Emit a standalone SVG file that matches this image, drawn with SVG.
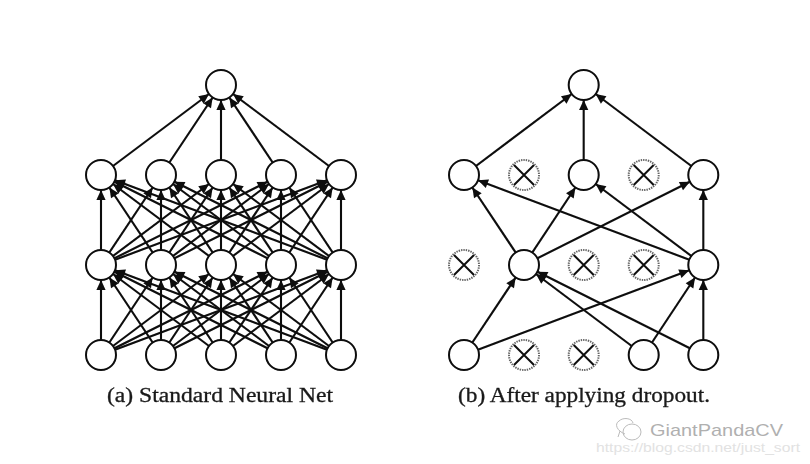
<svg xmlns="http://www.w3.org/2000/svg" width="810" height="464" viewBox="0 0 810 464">
<style>
.e{stroke:#0a0a0a;stroke-width:2.1;fill:none;marker-end:url(#a)}
.n{fill:#fff;stroke:#0a0a0a;stroke-width:2}
.d{fill:#fff;stroke:#666;stroke-width:2;stroke-dasharray:1.4 1}
.x{stroke:#111;stroke-width:2;fill:none}
.c{font-family:"Liberation Serif","Times New Roman",serif;font-size:20px;fill:#1a1a1a;stroke:#1a1a1a;stroke-width:.3}
.w{font-family:"Liberation Sans",Arial,sans-serif}
</style>
<defs>
<marker id="a" markerUnits="userSpaceOnUse" markerWidth="10" markerHeight="10" refX="0" refY="0" orient="auto" overflow="visible">
<path d="M-25,-4.6 L-15,0 L-25,4.6 Z" fill="#0a0a0a"/>
</marker>
<filter id="b" x="-5%" y="-5%" width="110%" height="110%"><feGaussianBlur stdDeviation="0.35"/></filter>
</defs>
<rect width="810" height="464" fill="#fff"/>
<g filter="url(#b)">
<g id="connectors-a">
<path class="e" d="M101,175L221,85"/><path class="e" d="M161,175L221,85"/><path class="e" d="M221,175L221,85"/><path class="e" d="M281,175L221,85"/><path class="e" d="M341,175L221,85"/>
<path class="e" d="M101,265L101,175"/><path class="e" d="M101,265L161,175"/><path class="e" d="M101,265L221,175"/><path class="e" d="M101,265L281,175"/><path class="e" d="M101,265L341,175"/>
<path class="e" d="M161,265L101,175"/><path class="e" d="M161,265L161,175"/><path class="e" d="M161,265L221,175"/><path class="e" d="M161,265L281,175"/><path class="e" d="M161,265L341,175"/>
<path class="e" d="M221,265L101,175"/><path class="e" d="M221,265L161,175"/><path class="e" d="M221,265L221,175"/><path class="e" d="M221,265L281,175"/><path class="e" d="M221,265L341,175"/>
<path class="e" d="M281,265L101,175"/><path class="e" d="M281,265L161,175"/><path class="e" d="M281,265L221,175"/><path class="e" d="M281,265L281,175"/><path class="e" d="M281,265L341,175"/>
<path class="e" d="M341,265L101,175"/><path class="e" d="M341,265L161,175"/><path class="e" d="M341,265L221,175"/><path class="e" d="M341,265L281,175"/><path class="e" d="M341,265L341,175"/>
<path class="e" d="M101,355L101,265"/><path class="e" d="M101,355L161,265"/><path class="e" d="M101,355L221,265"/><path class="e" d="M101,355L281,265"/><path class="e" d="M101,355L341,265"/>
<path class="e" d="M161,355L101,265"/><path class="e" d="M161,355L161,265"/><path class="e" d="M161,355L221,265"/><path class="e" d="M161,355L281,265"/><path class="e" d="M161,355L341,265"/>
<path class="e" d="M221,355L101,265"/><path class="e" d="M221,355L161,265"/><path class="e" d="M221,355L221,265"/><path class="e" d="M221,355L281,265"/><path class="e" d="M221,355L341,265"/>
<path class="e" d="M281,355L101,265"/><path class="e" d="M281,355L161,265"/><path class="e" d="M281,355L221,265"/><path class="e" d="M281,355L281,265"/><path class="e" d="M281,355L341,265"/>
<path class="e" d="M341,355L101,265"/><path class="e" d="M341,355L161,265"/><path class="e" d="M341,355L221,265"/><path class="e" d="M341,355L281,265"/><path class="e" d="M341,355L341,265"/>
</g>
<g id="connectors-b">
<path class="e" d="M464,175L583.7,85"/><path class="e" d="M583.7,175L583.7,85"/><path class="e" d="M703.3,175L583.7,85"/>
<path class="e" d="M524,265L464,175"/><path class="e" d="M524,265L583.7,175"/><path class="e" d="M524,265L703.3,175"/>
<path class="e" d="M703.3,265L464,175"/><path class="e" d="M703.3,265L583.7,175"/><path class="e" d="M703.3,265L703.3,175"/>
<path class="e" d="M464,355L524,265"/><path class="e" d="M464,355L703.3,265"/>
<path class="e" d="M643.7,355L524,265"/><path class="e" d="M643.7,355L703.3,265"/>
<path class="e" d="M703.3,355L524,265"/><path class="e" d="M703.3,355L703.3,265"/>
</g>
<g id="a-top"><circle class="n" cx="221" cy="85" r="15"/></g>
<g id="a-h2-1"><circle class="n" cx="101" cy="175" r="15"/></g>
<g id="a-h2-2"><circle class="n" cx="161" cy="175" r="15"/></g>
<g id="a-h2-3"><circle class="n" cx="221" cy="175" r="15"/></g>
<g id="a-h2-4"><circle class="n" cx="281" cy="175" r="15"/></g>
<g id="a-h2-5"><circle class="n" cx="341" cy="175" r="15"/></g>
<g id="a-h1-1"><circle class="n" cx="101" cy="265" r="15"/></g>
<g id="a-h1-2"><circle class="n" cx="161" cy="265" r="15"/></g>
<g id="a-h1-3"><circle class="n" cx="221" cy="265" r="15"/></g>
<g id="a-h1-4"><circle class="n" cx="281" cy="265" r="15"/></g>
<g id="a-h1-5"><circle class="n" cx="341" cy="265" r="15"/></g>
<g id="a-in-1"><circle class="n" cx="101" cy="355" r="15"/></g>
<g id="a-in-2"><circle class="n" cx="161" cy="355" r="15"/></g>
<g id="a-in-3"><circle class="n" cx="221" cy="355" r="15"/></g>
<g id="a-in-4"><circle class="n" cx="281" cy="355" r="15"/></g>
<g id="a-in-5"><circle class="n" cx="341" cy="355" r="15"/></g>
<g id="b-top"><circle class="n" cx="583.7" cy="85" r="15"/></g>
<g id="b-h2-1"><circle class="n" cx="464" cy="175" r="15"/></g>
<g id="b-h2-2"><circle class="d" cx="524" cy="175" r="15"/><path class="x" d="M514,165L534,185M534,165L514,185"/></g>
<g id="b-h2-3"><circle class="n" cx="583.7" cy="175" r="15"/></g>
<g id="b-h2-4"><circle class="d" cx="643.7" cy="175" r="15"/><path class="x" d="M633.7,165L653.7,185M653.7,165L633.7,185"/></g>
<g id="b-h2-5"><circle class="n" cx="703.3" cy="175" r="15"/></g>
<g id="b-h1-1"><circle class="d" cx="464" cy="265" r="15"/><path class="x" d="M454,255L474,275M474,255L454,275"/></g>
<g id="b-h1-2"><circle class="n" cx="524" cy="265" r="15"/></g>
<g id="b-h1-3"><circle class="d" cx="583.7" cy="265" r="15"/><path class="x" d="M573.7,255L593.7,275M593.7,255L573.7,275"/></g>
<g id="b-h1-4"><circle class="d" cx="643.7" cy="265" r="15"/><path class="x" d="M633.7,255L653.7,275M653.7,255L633.7,275"/></g>
<g id="b-h1-5"><circle class="n" cx="703.3" cy="265" r="15"/></g>
<g id="b-in-1"><circle class="n" cx="464" cy="355" r="15"/></g>
<g id="b-in-2"><circle class="d" cx="524" cy="355" r="15"/><path class="x" d="M514,345L534,365M534,345L514,365"/></g>
<g id="b-in-3"><circle class="d" cx="583.7" cy="355" r="15"/><path class="x" d="M573.7,345L593.7,365M593.7,345L573.7,365"/></g>
<g id="b-in-4"><circle class="n" cx="643.7" cy="355" r="15"/></g>
<g id="b-in-5"><circle class="n" cx="703.3" cy="355" r="15"/></g>
<text class="c" x="107" y="402" textLength="226" lengthAdjust="spacingAndGlyphs">(a) Standard Neural Net</text>
<text class="c" x="458" y="402" textLength="252" lengthAdjust="spacingAndGlyphs">(b) After applying dropout.</text>
</g>
<g id="watermark">
<g fill="none" stroke="#bbb" stroke-width="1">
<path d="M625,434 C617,431 614,424 619,421 C623,417 632,418 633,423 M620,431 L618,437"/>
<ellipse cx="632" cy="432" rx="9" ry="8"/>
</g>
<text class="w" x="650" y="436" font-size="17" fill="#b0b0b0" textLength="133" lengthAdjust="spacingAndGlyphs">GiantPandaCV</text>
<text class="w" x="596" y="452" font-size="12.5" fill="#e2e2e2" textLength="204" lengthAdjust="spacingAndGlyphs">https://blog.csdn.net/just_sort</text>
</g>
</svg>
